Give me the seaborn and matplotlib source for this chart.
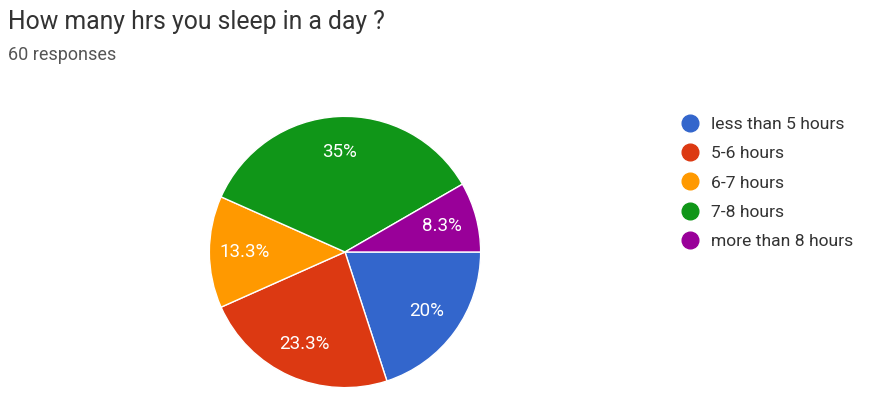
import numpy as np
import seaborn as sns
import matplotlib
matplotlib.use("Agg")
import matplotlib.pyplot as plt
from matplotlib.lines import Line2D

# survey answers (60 responses)
categories = ["less than 5 hours", "5-6 hours", "6-7 hours", "7-8 hours", "more than 8 hours"]
counts = [12, 14, 8, 21, 5]
colors = ["#3366cc", "#dc3912", "#ff9900", "#109618", "#990099"]

sns.set_style("white")
plt.rcParams["font.family"] = ["Roboto", "DejaVu Sans"]
palette = sns.color_palette(colors)

fig = plt.figure(figsize=(8.73, 4.04), dpi=100)
fig.patch.set_facecolor("white")

fig.text(8 / 873, 1 - 22 / 404, "How many hrs you sleep in a day ?", fontsize=17.8,
         color="#333333", va="center", ha="left")
fig.text(8 / 873, 1 - 55 / 404, "60 responses", fontsize=13, color="#555555",
         va="center", ha="left")

ax = fig.add_axes([(345 - 137) / 873, (404 - 389) / 404, 274 / 873, 274 / 404])


def fmt(p):
    s = f"{p:.1f}"
    if s.endswith(".0"):
        s = s[:-2]
    return s + "%"


wedges, texts, autotexts = ax.pie(
    counts, colors=palette, startangle=0, counterclock=False,
    autopct=fmt, pctdistance=0.74, radius=1,
    wedgeprops=dict(edgecolor="white", linewidth=1),
    textprops=dict(color="white", fontsize=13.5))
ax.set_xlim(-1.01, 1.01)
ax.set_ylim(-1.01, 1.01)
ax.set_aspect("equal")
ax.axis("off")

handles = [Line2D([0], [0], marker="o", linestyle="", markersize=12,
                  markerfacecolor=c, markeredgecolor=c) for c in palette]
fig.legend(handles, categories, loc="upper left",
           bbox_to_anchor=(664 / 873, 1 - 101 / 404), frameon=False,
           fontsize=12.6, labelcolor="#333333", handletextpad=0.6,
           labelspacing=0.8, handlelength=1.2)

fig.savefig("out.png", dpi=100, facecolor="white")
